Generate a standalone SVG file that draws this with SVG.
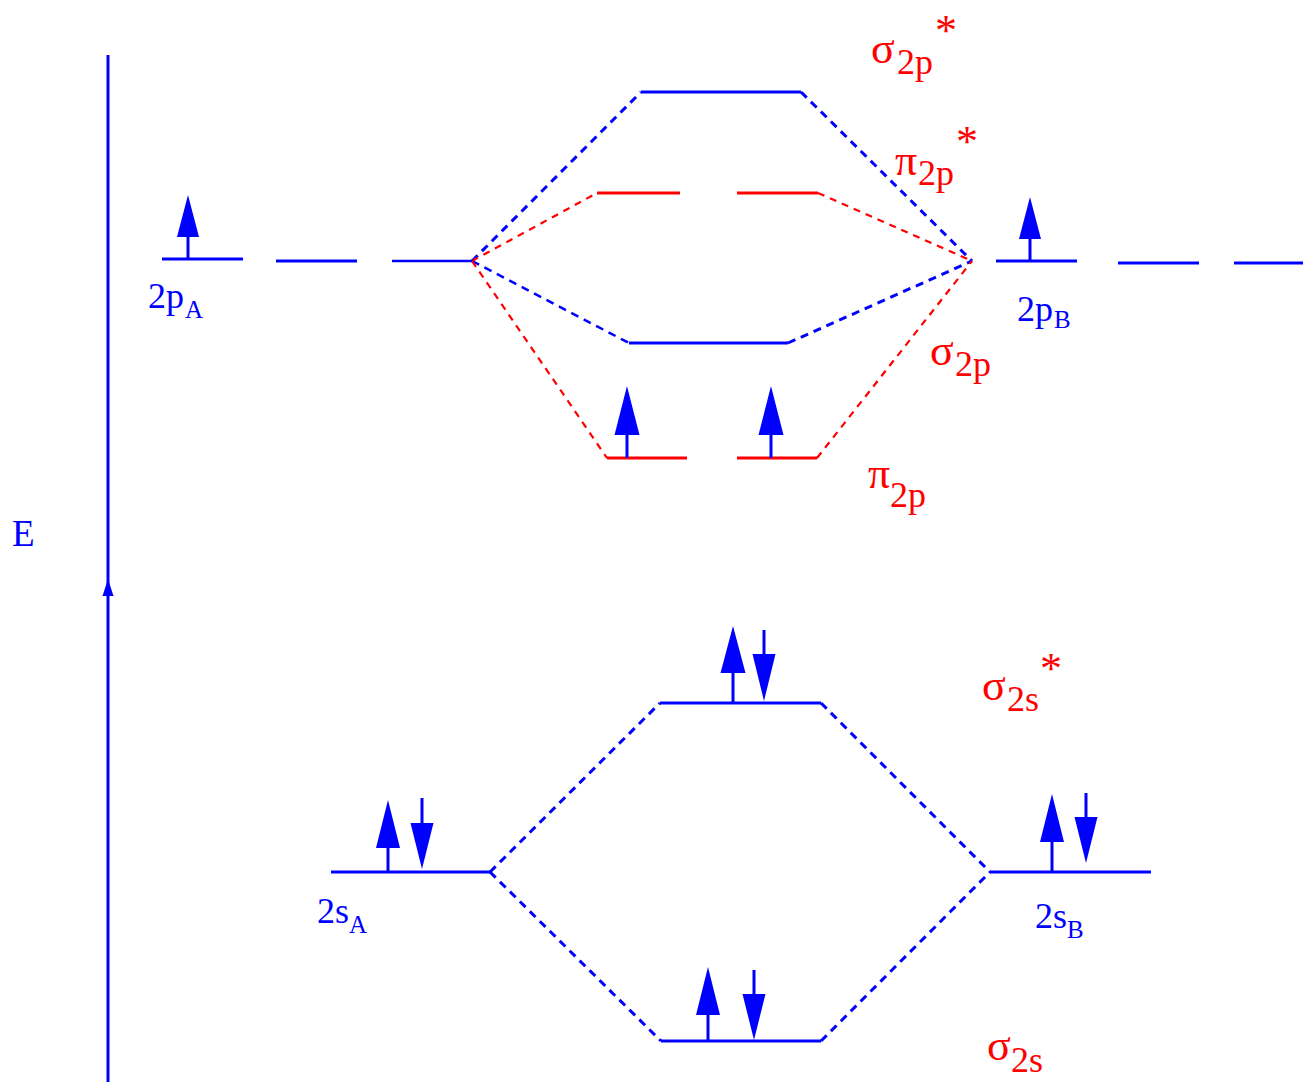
<svg xmlns="http://www.w3.org/2000/svg" width="1303" height="1082" viewBox="0 0 1303 1082">
<style>
.lb{stroke:#0000ff;stroke-width:3;fill:none}
.lr{stroke:#ff0000;stroke-width:3;fill:none}
.db{stroke:#0000ff;stroke-width:3;fill:none;stroke-dasharray:8 6}
.dr{stroke:#ff0000;stroke-width:2.2;fill:none;stroke-dasharray:7 6}
.ah{fill:#0000ff;stroke:none}
.tb{font-family:"Liberation Serif",serif;font-size:36px;fill:#0000ff}
.tr{font-family:"Liberation Serif",serif;font-size:36px;fill:#ff0000}
.gk{font-size:44px}
.st{font-size:44px}
.sub{font-size:25px}
</style>
<rect width="1303" height="1082" fill="#ffffff"/>
<g id="axis">
<line class="lb" x1="108" y1="55" x2="108" y2="1082"/>
<polygon class="ah" points="102.5,596 108,579 113.5,596"/>
<text class="tb" x="12" y="546" style="font-size:37px">E</text>
</g>
<g id="connectors">
<line class="db" x1="472" y1="261" x2="641" y2="92"/>
<line class="db" x1="801" y1="92" x2="972" y2="261"/>
<line class="dr" x1="472" y1="261" x2="597" y2="193"/>
<line class="dr" x1="818" y1="193" x2="972" y2="261"/>
<line class="db" x1="472" y1="261" x2="629" y2="343" style="stroke-width:2.5"/>
<line class="db" x1="788" y1="343" x2="972" y2="261"/>
<line class="dr" x1="472" y1="261" x2="607" y2="458"/>
<line class="dr" x1="817" y1="458" x2="972" y2="261"/>
<line class="db" x1="490" y1="872" x2="660" y2="703"/>
<line class="db" x1="821" y1="703" x2="990" y2="872"/>
<line class="db" x1="490" y1="872" x2="661" y2="1041"/>
<line class="db" x1="821" y1="1041" x2="990" y2="872"/>
</g>
<g id="n2pA">
<line class="lb" x1="162" y1="259" x2="243" y2="259"/>
<line class="lb" x1="276" y1="261" x2="357" y2="261"/>
<line class="lb" x1="392" y1="261" x2="472" y2="261" style="stroke-width:2.5"/>
<line class="lb" x1="188" y1="259" x2="188" y2="234"/>
<polygon class="ah" points="177,237 188,195 199,237"/>
<text class="tb" x="148" y="308">2p<tspan class="sub" x="185" y="318">A</tspan></text>
</g>
<g id="n2pB">
<line class="lb" x1="996" y1="261" x2="1077" y2="261"/>
<line class="lb" x1="1118" y1="263" x2="1199" y2="263"/>
<line class="lb" x1="1234" y1="263" x2="1303" y2="263"/>
<line class="lb" x1="1030" y1="261" x2="1030" y2="236"/>
<polygon class="ah" points="1019,239 1030,197 1041,239"/>
<text class="tb" x="1017" y="321">2p<tspan class="sub" x="1054" y="328">B</tspan></text>
</g>
<g id="sigma2pstar">
<line class="lb" x1="641" y1="92" x2="801" y2="92"/>
<text class="tr"><tspan class="gk" x="871" y="63">σ</tspan><tspan x="897" y="74">2p</tspan><tspan class="st" x="935" y="45">*</tspan></text>
</g>
<g id="pi2pstar">
<line class="lr" x1="597" y1="193" x2="680" y2="193"/>
<line class="lr" x1="737" y1="193" x2="818" y2="193"/>
<text class="tr"><tspan class="gk" x="895" y="175">π</tspan><tspan x="918" y="185">2p</tspan><tspan class="st" x="956" y="156">*</tspan></text>
</g>
<g id="sigma2p">
<line class="lb" x1="629" y1="343" x2="788" y2="343"/>
<text class="tr"><tspan class="gk" x="930" y="365">σ</tspan><tspan x="955" y="376">2p</tspan></text>
</g>
<g id="pi2p">
<line class="lr" x1="607" y1="458" x2="687" y2="458"/>
<line class="lr" x1="737" y1="458" x2="817" y2="458"/>
<line class="lb" x1="627" y1="458" x2="627" y2="432"/>
<polygon class="ah" points="614.5,435 627,386 639.5,435"/>
<line class="lb" x1="771" y1="458" x2="771" y2="432"/>
<polygon class="ah" points="758.5,435 771,386 783.5,435"/>
<text class="tr"><tspan class="gk" x="868" y="488">π</tspan><tspan x="890" y="507">2p</tspan></text>
</g>
<g id="sigma2sstar">
<line class="lb" x1="660" y1="703" x2="821" y2="703"/>
<line class="lb" x1="733" y1="703" x2="733" y2="670"/>
<polygon class="ah" points="720.5,673 733,626 745.5,673"/>
<line class="lb" x1="764" y1="630" x2="764" y2="657"/>
<polygon class="ah" points="752.5,654 764,701 775.5,654"/>
<text class="tr"><tspan class="gk" x="982" y="700">σ</tspan><tspan x="1007" y="711">2s</tspan><tspan class="st" x="1040" y="683">*</tspan></text>
</g>
<g id="n2sA">
<line class="lb" x1="331" y1="872" x2="490" y2="872"/>
<line class="lb" x1="388" y1="872" x2="388" y2="845"/>
<polygon class="ah" points="376,848 388,800 400,848"/>
<line class="lb" x1="422" y1="798" x2="422" y2="826"/>
<polygon class="ah" points="410.5,823 422,869 433.5,823"/>
<text class="tb" x="317" y="923">2s<tspan class="sub" x="349" y="933">A</tspan></text>
</g>
<g id="n2sB">
<line class="lb" x1="990" y1="872" x2="1151" y2="872"/>
<line class="lb" x1="1052" y1="872" x2="1052" y2="839"/>
<polygon class="ah" points="1040,842 1052,794 1064,842"/>
<line class="lb" x1="1086" y1="793" x2="1086" y2="820"/>
<polygon class="ah" points="1074.5,817 1086,863 1097.5,817"/>
<text class="tb" x="1035" y="928">2s<tspan class="sub" x="1067" y="938">B</tspan></text>
</g>
<g id="sigma2s">
<line class="lb" x1="661" y1="1041" x2="821" y2="1041"/>
<line class="lb" x1="708" y1="1041" x2="708" y2="1012"/>
<polygon class="ah" points="696,1015 708,967 720,1015"/>
<line class="lb" x1="754" y1="970" x2="754" y2="997"/>
<polygon class="ah" points="742.5,994 754,1040 765.5,994"/>
<text class="tr"><tspan class="gk" x="987" y="1060">σ</tspan><tspan x="1011" y="1072">2s</tspan></text>
</g>
</svg>
